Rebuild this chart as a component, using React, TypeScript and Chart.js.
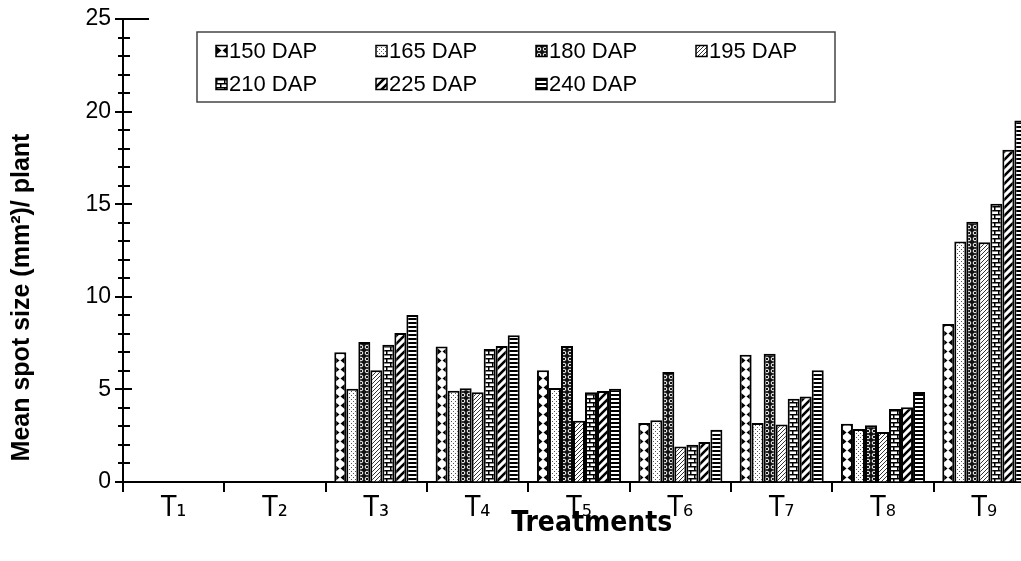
import React, { useEffect, useRef } from "react";
import { Chart, registerables } from "chart.js";

Chart.register(...registerables);

const categories = ["T₁", "T₂", "T₃", "T₄", "T₅", "T₆", "T₇", "T₈", "T₉"];
const seriesLabels = ["150 DAP", "165 DAP", "180 DAP", "195 DAP", "210 DAP", "225 DAP", "240 DAP"];
const dap150 = [0, 0, 7.0, 7.32, 6.03, 3.18, 6.87, 3.15, 8.53];
const dap165 = [0, 0, 5.04, 4.93, 5.07, 3.33, 3.18, 2.86, 12.99];
const dap180 = [0, 0, 7.56, 5.06, 7.35, 5.94, 6.93, 3.06, 14.05];
const dap195 = [0, 0, 6.03, 4.84, 3.31, 1.92, 3.11, 2.7, 12.94];
const dap210 = [0, 0, 7.41, 7.18, 4.84, 2.01, 4.5, 3.94, 15.03];
const dap225 = [0, 0, 8.04, 7.34, 4.91, 2.16, 4.62, 4.03, 17.94];
const dap240 = [0, 0, 9.02, 7.92, 5.04, 2.82, 6.03, 4.86, 19.52];
const yMin = 0;
const yMax = 25;
const yMajorStep = 5;
const yMinorStep = 1;
const yTitle = "Mean spot size (mm²)/ plant";
const xTitle = "Treatments";

const FONT = "'Liberation Sans', Arial, Helvetica, sans-serif";
const NARROW = "'Liberation Sans Narrow', 'Arial Narrow', 'DejaVu Sans Condensed', 'Liberation Sans', sans-serif";

const patternKinds = ["diamond", "dots", "loops", "fineDiag", "brick", "wideDiag", "hstripe"];

function makeTile(kind: string): HTMLCanvasElement {
  const c = document.createElement("canvas");
  let w = 8, h = 8;
  if (kind === "diamond") { w = 12; h = 9; }
  if (kind === "dots") { w = 4; h = 4; }
  if (kind === "loops") { w = 6; h = 6; }
  if (kind === "fineDiag") { w = 4; h = 4; }
  if (kind === "brick") { w = 8; h = 8; }
  if (kind === "wideDiag") { w = 8; h = 8; }
  if (kind === "hstripe") { w = 4; h = 4; }
  c.width = w; c.height = h;
  const g = c.getContext("2d")!;
  g.fillStyle = "#fff";
  g.fillRect(0, 0, w, h);
  g.fillStyle = "#000";
  g.strokeStyle = "#000";
  if (kind === "diamond") {
    g.beginPath();
    g.moveTo(0, 0); g.lineTo(5.5, 4.5); g.lineTo(0, 9); g.closePath(); g.fill();
    g.beginPath();
    g.moveTo(12, 0); g.lineTo(6.5, 4.5); g.lineTo(12, 9); g.closePath(); g.fill();
  } else if (kind === "dots") {
    g.fillStyle = "#555";
    g.fillRect(1, 1, 1, 1);
    g.fillRect(3, 3, 1, 1);
  } else if (kind === "loops") {
    g.fillStyle = "#111";
    g.fillRect(0, 0, w, h);
    g.strokeStyle = "#fff";
    g.lineWidth = 1;
    g.beginPath();
    g.arc(3, 3, 1.8, 0, Math.PI * 2);
    g.stroke();
  } else if (kind === "fineDiag") {
    g.strokeStyle = "#333";
    g.lineWidth = 1;
    g.beginPath();
    g.moveTo(-1, 5); g.lineTo(5, -1);
    g.stroke();
  } else if (kind === "brick") {
    g.fillRect(0, 0, 8, 1.5);
    g.fillRect(0, 4, 8, 1.5);
    g.fillRect(0, 0, 1.5, 4);
    g.fillRect(4, 4, 1.5, 4);
  } else if (kind === "wideDiag") {
    g.lineWidth = 2.6;
    g.beginPath();
    g.moveTo(-2, 10); g.lineTo(10, -2);
    g.moveTo(-2, 2); g.lineTo(2, -2);
    g.moveTo(6, 10); g.lineTo(10, 6);
    g.stroke();
  } else if (kind === "hstripe") {
    g.fillRect(0, 0, w, 2);
  }
  return c;
}

const seriesData = [dap150, dap165, dap180, dap195, dap210, dap225, dap240];

export default function App() {
  const ref = useRef<HTMLCanvasElement | null>(null);

  useEffect(() => {
    const canvas = ref.current;
    if (!canvas) return;
    const tiles = patternKinds.map(makeTile);

    const alignedPattern = (ctx: CanvasRenderingContext2D, tile: HTMLCanvasElement, left: number, bottom: number) => {
      const p = ctx.createPattern(tile, "repeat")!;
      if (typeof DOMMatrix !== "undefined") {
        p.setTransform(new DOMMatrix([1, 0, 0, 1, Math.round(left), Math.round(bottom)]));
      }
      return p;
    };

    const patternPlugin = {
      id: "barPatterns",
      beforeDatasetsDraw(chart: any) {
        const ctx = chart.ctx;
        chart.data.datasets.forEach((_ds: any, di: number) => {
          const meta = chart.getDatasetMeta(di);
          meta.data.forEach((bar: any) => {
            const left = bar.x - bar.width / 2;
            const p = alignedPattern(ctx, tiles[di], left, bar.base);
            bar.options = Object.assign({}, bar.options, { backgroundColor: p });
          });
        });
      },
    };

    const axisPlugin = {
      id: "axisDecor",
      afterDraw(chart: any) {
        const ctx = chart.ctx;
        const ys = chart.scales.y;
        const ca = chart.chartArea;
        const x0 = ca.left;
        ctx.save();
        ctx.strokeStyle = "#000";
        ctx.lineWidth = 2;
        for (let v = yMin; v <= yMax; v += yMinorStep) {
          const y = Math.round(ys.getPixelForValue(v));
          const major = v % yMajorStep === 0;
          const l = major ? 8 : 5;
          const r = v === yMax ? 26 : major ? 9 : 7;
          ctx.beginPath();
          ctx.moveTo(x0 - l, y);
          ctx.lineTo(x0 + r, y);
          ctx.stroke();
        }
        ctx.restore();

        // axis titles
        ctx.save();
        ctx.fillStyle = "#000";
        ctx.font = `bold 25px ${FONT}`;
        ctx.textAlign = "center";
        ctx.textBaseline = "middle";
        ctx.translate(14, (ca.top + ca.bottom) / 2 + 47);
        ctx.rotate(-Math.PI / 2);
        ctx.fillText(yTitle, 0, 0);
        ctx.restore();

        ctx.save();
        ctx.fillStyle = "#000";
        ctx.font = `bold 28px ${NARROW}`;
        ctx.textAlign = "center";
        ctx.textBaseline = "middle";
        ctx.fillText(xTitle, ca.left + (ca.right - ca.left) * 0.514, ca.bottom + 42);
        ctx.restore();

        // legend
        const bx = ca.left + 74, by = ca.top + 13, bw = 638, bh = 70;
        ctx.save();
        ctx.fillStyle = "#fff";
        ctx.fillRect(bx, by, bw, bh);
        ctx.strokeStyle = "#444";
        ctx.lineWidth = 1.5;
        ctx.strokeRect(bx, by, bw, bh);
        const colX = [19, 179, 339, 499];
        const rowY = [19, 52];
        ctx.font = `22px ${FONT}`;
        ctx.textBaseline = "middle";
        ctx.textAlign = "left";
        seriesLabels.forEach((lab, i) => {
          const cx = bx + colX[i % 4];
          const cy = by + rowY[Math.floor(i / 4)];
          const s = 11;
          ctx.fillStyle = alignedPattern(ctx, tiles[i], cx, cy - s / 2);
          ctx.fillRect(cx, cy - s / 2, s, s);
          ctx.strokeStyle = "#000";
          ctx.lineWidth = 1.5;
          ctx.strokeRect(cx, cy - s / 2, s, s);
          ctx.fillStyle = "#000";
          ctx.fillText(lab, cx + s + 2, cy + 1);
        });
        ctx.restore();
      },
    };

    const chart = new Chart(canvas, {
      type: "bar",
      data: {
        labels: categories,
        datasets: seriesLabels.map((lab, i) => ({
          label: lab,
          data: seriesData[i],
          backgroundColor: "#fff",
          borderColor: "#000",
          borderWidth: 2,
          categoryPercentage: 0.83,
          barPercentage: 1,
        })),
      },
      options: {
        animation: false,
        responsive: true,
        maintainAspectRatio: false,
        layout: { padding: { left: 0, top: 11, right: 18, bottom: 0 } },
        plugins: {
          legend: { display: false },
          tooltip: { enabled: false },
          title: { display: false },
        },
        scales: {
          x: {
            grid: {
              offset: true,
              drawOnChartArea: false,
              drawTicks: true,
              tickLength: 10,
              color: "#000",
              lineWidth: 2,
            },
            border: { display: true, color: "#000", width: 2 },
            ticks: {
              color: "#000",
              font: { family: NARROW, size: 28 },
              padding: 0,
              maxRotation: 0,
              autoSkip: false,
            },
            afterFit: (s: any) => { s.height = 71; s.paddingLeft = 0; s.paddingRight = 0; },
          },
          y: {
            min: yMin,
            max: yMax,
            grid: { display: true, drawOnChartArea: false, drawTicks: false },
            border: { display: true, color: "#000", width: 2 },
            ticks: {
              stepSize: yMajorStep,
              color: "#000",
              font: { family: FONT, size: 23 },
              padding: 12,
            },
            afterFit: (s: any) => { s.width = 115; s.paddingTop = 0; s.paddingBottom = 0; },
          },
        },
      },
      plugins: [patternPlugin, axisPlugin],
    } as any);

    return () => chart.destroy();
  }, []);

  return (
    <div style={{ position: "fixed", left: 0, top: 0, width: 1021, height: 561, overflow: "hidden", background: "#fff" }}>
      <div style={{ position: "absolute", left: 8, top: 8, width: 1045, height: 545 }}>
        <canvas ref={ref} />
      </div>
    </div>
  );
}
